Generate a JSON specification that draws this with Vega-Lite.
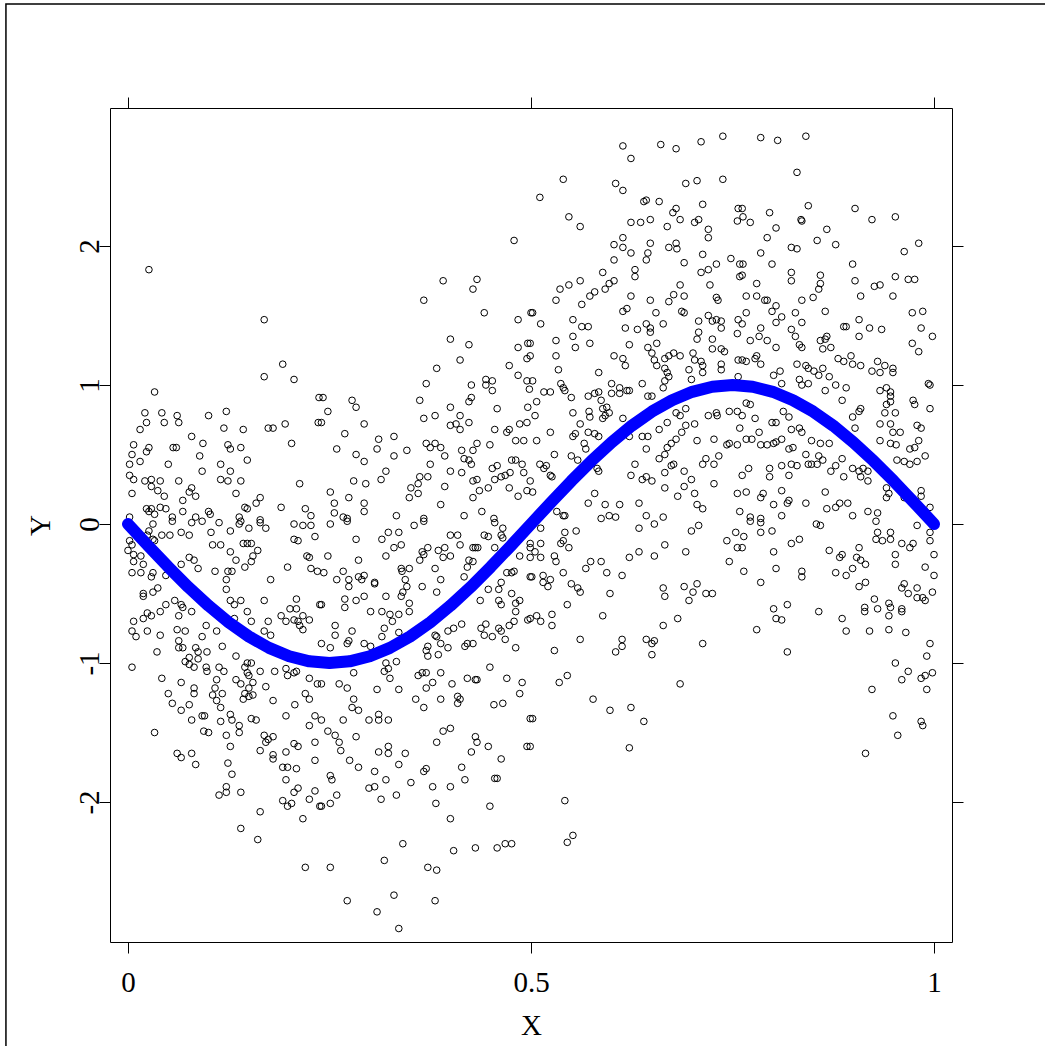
{
"$schema": "https://vega.github.io/schema/vega-lite/v6.json",
"autosize": "none",
"width": 842,
"height": 834,
"padding": {"left": 110, "top": 108, "right": 93, "bottom": 104},
"background": "white",
"config": {
"view": {"stroke": "black", "strokeWidth": 1},
"axis": {"domain": false, "grid": false, "tickColor": "black", "tickWidth": 1, "tickSize": 11, "labelFont": "Liberation Serif", "labelFontSize": 29, "labelColor": "black", "titleFont": "Liberation Serif", "titleFontSize": 29, "titleFontWeight": "normal", "titleColor": "black"}
},
"datasets": {
"pts": [
{"x":0.026,"y":1.83},{"x":0.169,"y":1.47},{"x":0.192,"y":1.15},{"x":0.169,"y":1.06},{"x":0.206,"y":1.04},{"x":0.033,"y":0.95},{"x":0.237,"y":0.91},{"x":0.021,"y":0.80},{"x":0.042,"y":0.80},{"x":0.061,"y":0.78},{"x":0.100,"y":0.78},{"x":0.122,"y":0.81},{"x":0.023,"y":0.73},{"x":0.045,"y":0.73},{"x":0.063,"y":0.73},{"x":0.236,"y":0.73},{"x":0.015,"y":0.68},{"x":0.119,"y":0.69},{"x":0.143,"y":0.68},{"x":0.174,"y":0.69},{"x":0.180,"y":0.69},{"x":0.195,"y":0.72},{"x":0.079,"y":0.63},{"x":0.093,"y":0.58},{"x":0.203,"y":0.58},{"x":0.007,"y":0.57},{"x":0.026,"y":0.55},{"x":0.056,"y":0.55},{"x":0.060,"y":0.55},{"x":0.124,"y":0.57},{"x":0.127,"y":0.54},{"x":0.140,"y":0.55},{"x":0.005,"y":0.50},{"x":0.023,"y":0.52},{"x":0.089,"y":0.49},{"x":0.002,"y":0.43},{"x":0.015,"y":0.45},{"x":0.050,"y":0.43},{"x":0.092,"y":0.38},{"x":0.115,"y":0.43},{"x":0.148,"y":0.46},{"x":0.127,"y":0.38},{"x":0.002,"y":0.35},{"x":0.007,"y":0.32},{"x":0.021,"y":0.31},{"x":0.029,"y":0.32},{"x":0.040,"y":0.31},{"x":0.063,"y":0.31},{"x":0.115,"y":0.32},{"x":0.124,"y":0.31},{"x":0.140,"y":0.31},{"x":0.213,"y":0.29},{"x":0.029,"y":0.27},{"x":0.037,"y":0.24},{"x":0.005,"y":0.22},{"x":0.045,"y":0.20},{"x":0.079,"y":0.26},{"x":0.076,"y":0.23},{"x":0.084,"y":0.20},{"x":0.068,"y":0.17},{"x":0.134,"y":0.22},{"x":0.159,"y":0.15},{"x":0.164,"y":0.19},{"x":0.148,"y":0.11},{"x":0.145,"y":0.12},{"x":0.023,"y":0.11},{"x":0.026,"y":0.09},{"x":0.029,"y":0.11},{"x":0.040,"y":0.12},{"x":0.047,"y":0.11},{"x":0.068,"y":0.09},{"x":0.100,"y":0.09},{"x":0.190,"y":0.12},{"x":0.220,"y":0.11},{"x":0.227,"y":0.06},{"x":0.002,"y":0.05},{"x":0.033,"y":0.07},{"x":0.055,"y":0.05},{"x":0.084,"y":0.05},{"x":0.102,"y":0.07},{"x":0.138,"y":0.05},{"x":0.164,"y":0.03},
{"x":0.031,"y":0.00},{"x":0.055,"y":0.02},{"x":0.079,"y":0.01},{"x":0.092,"y":0.02},{"x":0.113,"y":0.01},{"x":0.138,"y":0.00},{"x":0.140,"y":0.02},{"x":0.164,"y":0.01},{"x":0.171,"y":-0.03},{"x":0.206,"y":0.00},{"x":0.217,"y":-0.01},{"x":0.227,"y":-0.01},{"x":0.026,"y":-0.05},{"x":0.024,"y":-0.08},{"x":0.042,"y":-0.08},{"x":0.052,"y":-0.08},{"x":0.066,"y":-0.06},{"x":0.076,"y":-0.08},{"x":0.103,"y":-0.06},{"x":0.127,"y":-0.05},{"x":0.150,"y":-0.03},{"x":0.206,"y":-0.11},{"x":0.211,"y":-0.12},{"x":0.232,"y":-0.09},{"x":0.002,"y":-0.12},{"x":0.000,"y":-0.19},{"x":0.005,"y":-0.15},{"x":0.031,"y":-0.11},{"x":0.033,"y":-0.12},{"x":0.007,"y":-0.22},{"x":0.016,"y":-0.23},{"x":0.007,"y":-0.27},{"x":0.019,"y":-0.29},{"x":0.105,"y":-0.15},{"x":0.115,"y":-0.15},{"x":0.127,"y":-0.20},{"x":0.143,"y":-0.14},{"x":0.148,"y":-0.14},{"x":0.153,"y":-0.14},{"x":0.161,"y":-0.19},{"x":0.155,"y":-0.23},{"x":0.153,"y":-0.27},{"x":0.134,"y":-0.26},{"x":0.145,"y":-0.31},{"x":0.076,"y":-0.24},{"x":0.082,"y":-0.26},{"x":0.087,"y":-0.32},{"x":0.066,"y":-0.29},{"x":0.108,"y":-0.34},{"x":0.124,"y":-0.34},{"x":0.129,"y":-0.34},{"x":0.122,"y":-0.40},{"x":0.122,"y":-0.47},{"x":0.177,"y":-0.40},{"x":0.198,"y":-0.31},{"x":0.222,"y":-0.23},{"x":0.225,"y":-0.24},{"x":0.227,"y":-0.32},{"x":0.235,"y":-0.34},{"x":0.005,"y":-0.35},{"x":0.016,"y":-0.35},{"x":0.029,"y":-0.38},{"x":0.031,"y":-0.35},{"x":0.047,"y":-0.37},{"x":0.019,"y":-0.50},{"x":0.019,"y":-0.52},{"x":0.031,"y":-0.49},{"x":0.037,"y":-0.46},{"x":0.058,"y":-0.55},{"x":0.066,"y":-0.58},{"x":0.068,"y":-0.60},{"x":0.079,"y":-0.63},{"x":0.040,"y":-0.63},{"x":0.024,"y":-0.64},{"x":0.029,"y":-0.66},{"x":0.019,"y":-0.68},{"x":0.007,"y":-0.70},{"x":0.005,"y":-0.77},{"x":0.010,"y":-0.81},{"x":0.024,"y":-0.77},{"x":0.040,"y":-0.80},{"x":0.063,"y":-0.66},{"x":0.061,"y":-0.76},{"x":0.071,"y":-0.77},{"x":0.047,"y":-0.58},{"x":0.092,"y":-0.81},{"x":0.097,"y":-0.73},{"x":0.110,"y":-0.77},{"x":0.127,"y":-0.55},{"x":0.132,"y":-0.58},{"x":0.140,"y":-0.55},{"x":0.132,"y":-0.68},{"x":0.148,"y":-0.63},{"x":0.153,"y":-0.70},{"x":0.169,"y":-0.55},{"x":0.174,"y":-0.70},{"x":0.169,"y":-0.77},{"x":0.177,"y":-0.80},{"x":0.190,"y":-0.66},{"x":0.196,"y":-0.70},{"x":0.201,"y":-0.61},{"x":0.209,"y":-0.61},{"x":0.206,"y":-0.69},{"x":0.211,"y":-0.70},{"x":0.217,"y":-0.66},{"x":0.225,"y":-0.69},{"x":0.217,"y":-0.76},{"x":0.213,"y":-0.73},{"x":0.209,"y":-0.54},{"x":0.238,"y":-0.58},{"x":0.036,"y":-0.92},{"x":0.063,"y":-0.84},{"x":0.063,"y":-0.89},{"x":0.068,"y":-0.89},{"x":0.084,"y":-0.89},{"x":0.087,"y":-0.92},{"x":0.071,"y":-0.99},{"x":0.076,"y":-0.96},{"x":0.098,"y":-0.92},{"x":0.117,"y":-0.88},{"x":0.134,"y":-0.95},{"x":0.076,"y":-1.01},{"x":0.082,"y":-1.03},{"x":0.087,"y":-0.97},{"x":0.097,"y":-1.03},{"x":0.098,"y":-1.06},{"x":0.113,"y":-1.03},{"x":0.119,"y":-1.06},{"x":0.110,"y":-1.12},{"x":0.145,"y":-1.03},{"x":0.148,"y":-1.00},{"x":0.153,"y":-1.00},{"x":0.148,"y":-1.07},{"x":0.150,"y":-1.09},{"x":0.155,"y":-1.14},{"x":0.164,"y":-1.06},{"x":0.182,"y":-1.06},{"x":0.196,"y":-1.04},{"x":0.198,"y":-1.09},{"x":0.206,"y":-1.07},{"x":0.209,"y":-1.06},{"x":0.225,"y":-1.11},{"x":0.235,"y":-1.15},{"x":0.005,"y":-1.03},{"x":0.042,"y":-1.11},{"x":0.066,"y":-1.14},{"x":0.050,"y":-1.22},{"x":0.055,"y":-1.29},{"x":0.066,"y":-1.34},{"x":0.076,"y":-1.30},{"x":0.082,"y":-1.18},{"x":0.082,"y":-1.22},{"x":0.108,"y":-1.18},{"x":0.105,"y":-1.23},{"x":0.117,"y":-1.22},{"x":0.110,"y":-1.27},{"x":0.134,"y":-1.12},{"x":0.140,"y":-1.15},{"x":0.145,"y":-1.22},{"x":0.143,"y":-1.26},{"x":0.150,"y":-1.24},{"x":0.155,"y":-1.23},{"x":0.150,"y":-1.18},{"x":0.171,"y":-1.17},{"x":0.180,"y":-1.27},{"x":0.220,"y":-1.22},{"x":0.225,"y":-1.26},{"x":0.207,"y":-1.30},{"x":0.115,"y":-1.32},{"x":0.127,"y":-1.37},{"x":0.129,"y":-1.41},{"x":0.079,"y":-1.41},{"x":0.092,"y":-1.38},{"x":0.095,"y":-1.38},{"x":0.115,"y":-1.42},{"x":0.138,"y":-1.45},{"x":0.138,"y":-1.50},{"x":0.153,"y":-1.40},{"x":0.159,"y":-1.41},{"x":0.196,"y":-1.38},{"x":0.225,"y":-1.45},{"x":0.232,"y":-1.38},{"x":0.094,"y":-1.49},{"x":0.100,"y":-1.50},{"x":0.122,"y":-1.52},{"x":0.033,"y":-1.50},{"x":0.127,"y":-1.60},{"x":0.169,"y":-1.52},{"x":0.174,"y":-1.55},{"x":0.180,"y":-1.53},{"x":0.171,"y":-1.57},{"x":0.164,"y":-1.63},{"x":0.180,"y":-1.66},{"x":0.180,"y":-1.69},{"x":0.206,"y":-1.58},{"x":0.211,"y":-1.60},{"x":0.232,"y":-1.57},{"x":0.232,"y":-1.70},{"x":0.196,"y":-1.64},{"x":0.061,"y":-1.65},{"x":0.066,"y":-1.68},{"x":0.079,"y":-1.65},{"x":0.084,"y":-1.73},{"x":0.124,"y":-1.72},{"x":0.129,"y":-1.80},{"x":0.192,"y":-1.75},{"x":0.198,"y":-1.75},{"x":0.209,"y":-1.76},{"x":0.196,"y":-1.84},{"x":0.122,"y":-1.89},{"x":0.113,"y":-1.95},{"x":0.122,"y":-1.93},{"x":0.140,"y":-1.93},{"x":0.211,"y":-1.90},{"x":0.206,"y":-1.93},{"x":0.192,"y":-1.99},{"x":0.198,"y":-2.03},{"x":0.203,"y":-2.01},{"x":0.225,"y":-1.98},{"x":0.232,"y":-1.92},{"x":0.238,"y":-2.03},{"x":0.164,"y":-2.07},{"x":0.217,"y":-2.12},{"x":0.140,"y":-2.19},{"x":0.161,"y":-2.27},{"x":0.220,"y":-2.47},
{"x":0.479,"y":2.04},{"x":0.391,"y":1.75},{"x":0.433,"y":1.76},{"x":0.428,"y":1.69},{"x":0.367,"y":1.61},{"x":0.442,"y":1.52},{"x":0.484,"y":1.47},{"x":0.500,"y":1.52},{"x":0.400,"y":1.33},{"x":0.423,"y":1.29},{"x":0.484,"y":1.27},{"x":0.496,"y":1.30},{"x":0.495,"y":1.19},{"x":0.412,"y":1.18},{"x":0.383,"y":1.12},{"x":0.473,"y":1.14},{"x":0.484,"y":1.07},{"x":0.495,"y":1.03},{"x":0.370,"y":1.01},{"x":0.444,"y":1.04},{"x":0.452,"y":1.03},{"x":0.444,"y":1.00},{"x":0.452,"y":0.96},{"x":0.426,"y":1.00},{"x":0.498,"y":0.97},{"x":0.242,"y":0.91},{"x":0.248,"y":0.81},{"x":0.240,"y":0.73},{"x":0.278,"y":0.89},{"x":0.283,"y":0.84},{"x":0.362,"y":0.89},{"x":0.426,"y":0.91},{"x":0.423,"y":0.88},{"x":0.400,"y":0.84},{"x":0.458,"y":0.83},{"x":0.496,"y":0.84},{"x":0.293,"y":0.72},{"x":0.367,"y":0.76},{"x":0.381,"y":0.78},{"x":0.412,"y":0.78},{"x":0.407,"y":0.72},{"x":0.400,"y":0.71},{"x":0.412,"y":0.68},{"x":0.423,"y":0.73},{"x":0.455,"y":0.68},{"x":0.470,"y":0.66},{"x":0.473,"y":0.68},{"x":0.486,"y":0.72},{"x":0.495,"y":0.73},{"x":0.269,"y":0.65},{"x":0.259,"y":0.54},{"x":0.311,"y":0.61},{"x":0.309,"y":0.54},{"x":0.330,"y":0.63},{"x":0.330,"y":0.49},{"x":0.283,"y":0.50},{"x":0.293,"y":0.45},{"x":0.346,"y":0.53},{"x":0.370,"y":0.58},{"x":0.381,"y":0.58},{"x":0.375,"y":0.55},{"x":0.388,"y":0.55},{"x":0.393,"y":0.49},{"x":0.433,"y":0.58},{"x":0.449,"y":0.57},{"x":0.414,"y":0.53},{"x":0.428,"y":0.53},{"x":0.417,"y":0.47},{"x":0.423,"y":0.46},{"x":0.426,"y":0.43},{"x":0.481,"y":0.60},{"x":0.491,"y":0.60},{"x":0.375,"y":0.43},{"x":0.400,"y":0.38},{"x":0.414,"y":0.37},{"x":0.320,"y":0.38},{"x":0.314,"y":0.32},{"x":0.280,"y":0.31},{"x":0.295,"y":0.29},{"x":0.362,"y":0.34},{"x":0.372,"y":0.34},{"x":0.360,"y":0.29},{"x":0.351,"y":0.26},{"x":0.349,"y":0.19},{"x":0.360,"y":0.22},{"x":0.393,"y":0.27},{"x":0.428,"y":0.31},{"x":0.433,"y":0.32},{"x":0.452,"y":0.40},{"x":0.458,"y":0.42},{"x":0.455,"y":0.32},{"x":0.463,"y":0.34},{"x":0.468,"y":0.35},{"x":0.474,"y":0.37},{"x":0.476,"y":0.46},{"x":0.481,"y":0.46},{"x":0.489,"y":0.43},{"x":0.491,"y":0.37},{"x":0.447,"y":0.26},{"x":0.436,"y":0.24},{"x":0.473,"y":0.26},{"x":0.484,"y":0.20},{"x":0.495,"y":0.24},{"x":0.428,"y":0.19},{"x":0.251,"y":0.23},{"x":0.256,"y":0.15},{"x":0.274,"y":0.19},{"x":0.293,"y":0.15},{"x":0.293,"y":0.09},{"x":0.256,"y":0.08},{"x":0.267,"y":0.05},{"x":0.272,"y":0.04},{"x":0.333,"y":0.06},{"x":0.367,"y":0.04},{"x":0.388,"y":0.14},{"x":0.417,"y":0.06},{"x":0.439,"y":0.09},{"x":0.454,"y":0.04},
{"x":0.251,"y":0.00},{"x":0.272,"y":0.02},{"x":0.283,"y":-0.11},{"x":0.315,"y":-0.11},{"x":0.323,"y":-0.06},{"x":0.336,"y":-0.06},{"x":0.355,"y":-0.01},{"x":0.367,"y":0.02},{"x":0.400,"y":-0.08},{"x":0.409,"y":-0.08},{"x":0.455,"y":0.01},{"x":0.465,"y":-0.03},{"x":0.442,"y":-0.08},{"x":0.447,"y":-0.09},{"x":0.463,"y":-0.08},{"x":0.465,"y":-0.10},{"x":0.248,"y":-0.23},{"x":0.286,"y":-0.26},{"x":0.320,"y":-0.23},{"x":0.330,"y":-0.17},{"x":0.339,"y":-0.15},{"x":0.365,"y":-0.20},{"x":0.367,"y":-0.22},{"x":0.362,"y":-0.26},{"x":0.372,"y":-0.17},{"x":0.385,"y":-0.19},{"x":0.391,"y":-0.24},{"x":0.393,"y":-0.17},{"x":0.400,"y":-0.23},{"x":0.412,"y":-0.15},{"x":0.428,"y":-0.17},{"x":0.431,"y":-0.17},{"x":0.434,"y":-0.17},{"x":0.423,"y":-0.26},{"x":0.421,"y":-0.31},{"x":0.428,"y":-0.27},{"x":0.455,"y":-0.17},{"x":0.486,"y":-0.23},{"x":0.499,"y":-0.17},{"x":0.243,"y":-0.35},{"x":0.267,"y":-0.34},{"x":0.259,"y":-0.40},{"x":0.274,"y":-0.40},{"x":0.274,"y":-0.45},{"x":0.286,"y":-0.38},{"x":0.293,"y":-0.37},{"x":0.290,"y":-0.40},{"x":0.306,"y":-0.42},{"x":0.306,"y":-0.43},{"x":0.339,"y":-0.32},{"x":0.340,"y":-0.34},{"x":0.349,"y":-0.32},{"x":0.344,"y":-0.40},{"x":0.346,"y":-0.45},{"x":0.341,"y":-0.49},{"x":0.339,"y":-0.52},{"x":0.349,"y":-0.57},{"x":0.349,"y":-0.63},{"x":0.365,"y":-0.45},{"x":0.381,"y":-0.32},{"x":0.388,"y":-0.40},{"x":0.383,"y":-0.49},{"x":0.417,"y":-0.38},{"x":0.269,"y":-0.54},{"x":0.269,"y":-0.60},{"x":0.283,"y":-0.55},{"x":0.293,"y":-0.52},{"x":0.301,"y":-0.63},{"x":0.315,"y":-0.63},{"x":0.325,"y":-0.65},{"x":0.336,"y":-0.65},{"x":0.320,"y":-0.52},{"x":0.240,"y":-0.58},{"x":0.257,"y":-0.73},{"x":0.257,"y":-0.80},{"x":0.278,"y":-0.77},{"x":0.318,"y":-0.75},{"x":0.315,"y":-0.81},{"x":0.328,"y":-0.70},{"x":0.336,"y":-0.78},{"x":0.240,"y":-0.86},{"x":0.251,"y":-0.89},{"x":0.272,"y":-0.86},{"x":0.274,"y":-0.84},{"x":0.293,"y":-0.86},{"x":0.301,"y":-0.88},{"x":0.381,"y":-0.80},{"x":0.383,"y":-0.81},{"x":0.372,"y":-0.88},{"x":0.370,"y":-0.91},{"x":0.372,"y":-0.95},{"x":0.388,"y":-0.86},{"x":0.385,"y":-0.94},{"x":0.397,"y":-0.89},{"x":0.414,"y":-0.72},{"x":0.404,"y":-0.75},{"x":0.397,"y":-0.77},{"x":0.418,"y":-0.88},{"x":0.421,"y":-0.86},{"x":0.428,"y":-0.86},{"x":0.438,"y":-0.75},{"x":0.442,"y":-0.80},{"x":0.444,"y":-0.72},{"x":0.452,"y":-0.81},{"x":0.460,"y":-0.75},{"x":0.463,"y":-0.77},{"x":0.468,"y":-0.83},{"x":0.473,"y":-0.73},{"x":0.481,"y":-0.89},{"x":0.479,"y":-0.70},{"x":0.481,"y":-0.63},{"x":0.437,"y":-0.55},{"x":0.447,"y":-0.47},{"x":0.460,"y":-0.47},{"x":0.460,"y":-0.55},{"x":0.463,"y":-0.58},{"x":0.476,"y":-0.50},{"x":0.486,"y":-0.55},{"x":0.481,"y":-0.57},{"x":0.496,"y":-0.69},{"x":0.463,"y":-0.42},{"x":0.470,"y":-0.35},{"x":0.476,"y":-0.35},{"x":0.479,"y":-0.34},{"x":0.499,"y":-0.38},{"x":0.280,"y":-1.07},{"x":0.262,"y":-1.15},{"x":0.272,"y":-1.18},{"x":0.240,"y":-1.15},{"x":0.320,"y":-1.00},{"x":0.318,"y":-1.06},{"x":0.323,"y":-1.04},{"x":0.325,"y":-1.11},{"x":0.333,"y":-0.99},{"x":0.309,"y":-1.19},{"x":0.336,"y":-1.19},{"x":0.360,"y":-1.09},{"x":0.365,"y":-1.07},{"x":0.370,"y":-1.07},{"x":0.378,"y":-1.14},{"x":0.370,"y":-1.18},{"x":0.388,"y":-1.07},{"x":0.402,"y":-1.15},{"x":0.421,"y":-1.11},{"x":0.431,"y":-1.12},{"x":0.433,"y":-1.12},{"x":0.449,"y":-1.03},{"x":0.470,"y":-1.11},{"x":0.489,"y":-1.14},{"x":0.486,"y":-1.22},{"x":0.280,"y":-1.26},{"x":0.278,"y":-1.32},{"x":0.286,"y":-1.34},{"x":0.357,"y":-1.26},{"x":0.367,"y":-1.32},{"x":0.388,"y":-1.26},{"x":0.409,"y":-1.24},{"x":0.412,"y":-1.26},{"x":0.409,"y":-1.29},{"x":0.454,"y":-1.30},{"x":0.465,"y":-1.29},{"x":0.499,"y":-1.40},{"x":0.240,"y":-1.41},{"x":0.267,"y":-1.41},{"x":0.299,"y":-1.41},{"x":0.311,"y":-1.37},{"x":0.311,"y":-1.41},{"x":0.323,"y":-1.41},{"x":0.248,"y":-1.49},{"x":0.257,"y":-1.52},{"x":0.262,"y":-1.57},{"x":0.264,"y":-1.63},{"x":0.283,"y":-1.53},{"x":0.275,"y":-1.70},{"x":0.286,"y":-1.75},{"x":0.311,"y":-1.64},{"x":0.323,"y":-1.60},{"x":0.323,"y":-1.65},{"x":0.344,"y":-1.65},{"x":0.336,"y":-1.73},{"x":0.383,"y":-1.57},{"x":0.391,"y":-1.49},{"x":0.400,"y":-1.47},{"x":0.431,"y":-1.53},{"x":0.433,"y":-1.57},{"x":0.426,"y":-1.64},{"x":0.447,"y":-1.60},{"x":0.463,"y":-1.69},{"x":0.495,"y":-1.60},{"x":0.414,"y":-1.75},{"x":0.418,"y":-1.84},{"x":0.400,"y":-1.89},{"x":0.378,"y":-1.89},{"x":0.351,"y":-1.86},{"x":0.333,"y":-1.95},{"x":0.314,"y":-1.98},{"x":0.306,"y":-1.78},{"x":0.320,"y":-1.84},{"x":0.299,"y":-1.90},{"x":0.306,"y":-1.89},{"x":0.367,"y":-1.78},{"x":0.370,"y":-1.76},{"x":0.382,"y":-2.01},{"x":0.449,"y":-2.03},{"x":0.455,"y":-1.83},{"x":0.458,"y":-1.83},{"x":0.251,"y":-1.81},{"x":0.253,"y":-1.84},{"x":0.259,"y":-1.95},{"x":0.251,"y":-2.01},{"x":0.240,"y":-2.03},{"x":0.400,"y":-2.12},{"x":0.341,"y":-2.30},{"x":0.318,"y":-2.42},{"x":0.251,"y":-2.47},{"x":0.372,"y":-2.47},{"x":0.383,"y":-2.49},{"x":0.404,"y":-2.35},{"x":0.431,"y":-2.33},{"x":0.458,"y":-2.33},{"x":0.468,"y":-2.30},{"x":0.476,"y":-2.30},{"x":0.272,"y":-2.71},{"x":0.309,"y":-2.79},{"x":0.330,"y":-2.67},{"x":0.381,"y":-2.71},{"x":0.336,"y":-2.91},
{"x":0.614,"y":2.72},{"x":0.624,"y":2.63},{"x":0.661,"y":2.73},{"x":0.680,"y":2.70},{"x":0.711,"y":2.75},{"x":0.738,"y":2.79},{"x":0.540,"y":2.48},{"x":0.511,"y":2.35},{"x":0.605,"y":2.45},{"x":0.614,"y":2.40},{"x":0.692,"y":2.45},{"x":0.706,"y":2.47},{"x":0.738,"y":2.48},{"x":0.640,"y":2.32},{"x":0.643,"y":2.33},{"x":0.659,"y":2.32},{"x":0.680,"y":2.27},{"x":0.676,"y":2.24},{"x":0.685,"y":2.19},{"x":0.713,"y":2.30},{"x":0.757,"y":2.27},{"x":0.756,"y":2.18},{"x":0.547,"y":2.21},{"x":0.561,"y":2.14},{"x":0.624,"y":2.17},{"x":0.636,"y":2.17},{"x":0.648,"y":2.19},{"x":0.669,"y":2.14},{"x":0.703,"y":2.17},{"x":0.708,"y":2.19},{"x":0.720,"y":2.12},{"x":0.720,"y":2.06},{"x":0.614,"y":2.06},{"x":0.603,"y":2.01},{"x":0.614,"y":1.99},{"x":0.624,"y":1.95},{"x":0.648,"y":2.02},{"x":0.645,"y":1.95},{"x":0.643,"y":1.90},{"x":0.671,"y":1.99},{"x":0.680,"y":2.02},{"x":0.681,"y":1.98},{"x":0.690,"y":1.88},{"x":0.713,"y":1.94},{"x":0.730,"y":1.87},{"x":0.720,"y":1.83},{"x":0.711,"y":1.81},{"x":0.748,"y":1.91},{"x":0.759,"y":1.87},{"x":0.759,"y":1.78},{"x":0.603,"y":1.90},{"x":0.589,"y":1.81},{"x":0.603,"y":1.75},{"x":0.597,"y":1.73},{"x":0.592,"y":1.69},{"x":0.629,"y":1.83},{"x":0.629,"y":1.78},{"x":0.561,"y":1.75},{"x":0.547,"y":1.72},{"x":0.536,"y":1.69},{"x":0.531,"y":1.61},{"x":0.579,"y":1.67},{"x":0.573,"y":1.64},{"x":0.563,"y":1.58},{"x":0.624,"y":1.64},{"x":0.648,"y":1.61},{"x":0.671,"y":1.60},{"x":0.677,"y":1.65},{"x":0.685,"y":1.72},{"x":0.690,"y":1.64},{"x":0.722,"y":1.72},{"x":0.730,"y":1.63},{"x":0.732,"y":1.61},{"x":0.614,"y":1.53},{"x":0.619,"y":1.55},{"x":0.655,"y":1.52},{"x":0.664,"y":1.44},{"x":0.687,"y":1.53},{"x":0.690,"y":1.52},{"x":0.502,"y":1.52},{"x":0.512,"y":1.44},{"x":0.552,"y":1.47},{"x":0.563,"y":1.42},{"x":0.571,"y":1.42},{"x":0.552,"y":1.35},{"x":0.555,"y":1.27},{"x":0.573,"y":1.30},{"x":0.617,"y":1.41},{"x":0.632,"y":1.40},{"x":0.643,"y":1.44},{"x":0.648,"y":1.41},{"x":0.648,"y":1.38},{"x":0.645,"y":1.27},{"x":0.656,"y":1.30},{"x":0.708,"y":1.46},{"x":0.720,"y":1.50},{"x":0.725,"y":1.46},{"x":0.730,"y":1.47},{"x":0.736,"y":1.46},{"x":0.736,"y":1.41},{"x":0.708,"y":1.38},{"x":0.706,"y":1.33},{"x":0.725,"y":1.33},{"x":0.725,"y":1.26},{"x":0.736,"y":1.26},{"x":0.740,"y":1.24},{"x":0.757,"y":1.47},{"x":0.756,"y":1.37},{"x":0.531,"y":1.32},{"x":0.531,"y":1.21},{"x":0.534,"y":1.11},{"x":0.537,"y":1.01},{"x":0.542,"y":0.96},{"x":0.550,"y":0.91},{"x":0.499,"y":1.30},{"x":0.499,"y":1.21},{"x":0.502,"y":1.03},{"x":0.603,"y":1.21},{"x":0.614,"y":1.19},{"x":0.617,"y":1.14},{"x":0.622,"y":1.29},{"x":0.584,"y":1.09},{"x":0.650,"y":1.23},{"x":0.653,"y":1.18},{"x":0.656,"y":1.14},{"x":0.666,"y":1.19},{"x":0.671,"y":1.21},{"x":0.677,"y":1.23},{"x":0.685,"y":1.21},{"x":0.666,"y":1.12},{"x":0.669,"y":1.09},{"x":0.666,"y":1.03},{"x":0.671,"y":1.06},{"x":0.664,"y":0.98},{"x":0.701,"y":1.23},{"x":0.703,"y":1.18},{"x":0.711,"y":1.17},{"x":0.713,"y":1.14},{"x":0.713,"y":1.09},{"x":0.696,"y":1.11},{"x":0.699,"y":1.04},{"x":0.736,"y":1.15},{"x":0.736,"y":1.11},{"x":0.757,"y":1.18},{"x":0.757,"y":1.06},{"x":0.600,"y":1.01},{"x":0.610,"y":0.98},{"x":0.619,"y":0.96},{"x":0.622,"y":0.96},{"x":0.610,"y":0.94},{"x":0.600,"y":0.94},{"x":0.638,"y":1.01},{"x":0.645,"y":0.92},{"x":0.650,"y":0.92},{"x":0.516,"y":0.95},{"x":0.524,"y":0.95},{"x":0.540,"y":0.98},{"x":0.571,"y":0.92},{"x":0.579,"y":0.94},{"x":0.584,"y":0.95},{"x":0.587,"y":0.89},{"x":0.589,"y":0.83},{"x":0.592,"y":0.78},{"x":0.589,"y":0.76},{"x":0.597,"y":0.80},{"x":0.594,"y":0.84},{"x":0.572,"y":0.81},{"x":0.573,"y":0.77},{"x":0.552,"y":0.80},{"x":0.561,"y":0.72},{"x":0.552,"y":0.63},{"x":0.555,"y":0.65},{"x":0.507,"y":0.88},{"x":0.505,"y":0.78},{"x":0.507,"y":0.60},{"x":0.524,"y":0.66},{"x":0.529,"y":0.50},{"x":0.571,"y":0.66},{"x":0.579,"y":0.65},{"x":0.584,"y":0.63},{"x":0.566,"y":0.58},{"x":0.568,"y":0.54},{"x":0.550,"y":0.49},{"x":0.558,"y":0.46},{"x":0.614,"y":0.76},{"x":0.622,"y":0.63},{"x":0.638,"y":0.63},{"x":0.645,"y":0.63},{"x":0.643,"y":0.54},{"x":0.659,"y":0.68},{"x":0.669,"y":0.73},{"x":0.680,"y":0.80},{"x":0.685,"y":0.78},{"x":0.692,"y":0.83},{"x":0.703,"y":0.72},{"x":0.692,"y":0.71},{"x":0.687,"y":0.66},{"x":0.720,"y":0.78},{"x":0.730,"y":0.80},{"x":0.731,"y":0.78},{"x":0.746,"y":0.81},{"x":0.756,"y":0.81},{"x":0.759,"y":0.69},{"x":0.706,"y":0.60},{"x":0.727,"y":0.61},{"x":0.680,"y":0.61},{"x":0.674,"y":0.58},{"x":0.669,"y":0.55},{"x":0.666,"y":0.50},{"x":0.659,"y":0.47},{"x":0.743,"y":0.57},{"x":0.746,"y":0.58},{"x":0.756,"y":0.57},{"x":0.717,"y":0.47},{"x":0.713,"y":0.43},{"x":0.727,"y":0.43},{"x":0.733,"y":0.49},{"x":0.677,"y":0.43},{"x":0.674,"y":0.42},{"x":0.666,"y":0.37},{"x":0.690,"y":0.38},{"x":0.699,"y":0.32},{"x":0.690,"y":0.27},{"x":0.666,"y":0.26},{"x":0.682,"y":0.20},{"x":0.629,"y":0.43},{"x":0.624,"y":0.35},{"x":0.638,"y":0.32},{"x":0.643,"y":0.34},{"x":0.650,"y":0.31},{"x":0.584,"y":0.38},{"x":0.582,"y":0.40},{"x":0.579,"y":0.22},{"x":0.571,"y":0.15},{"x":0.592,"y":0.14},{"x":0.597,"y":0.06},{"x":0.610,"y":0.14},{"x":0.634,"y":0.15},{"x":0.643,"y":0.06},{"x":0.664,"y":0.05},{"x":0.703,"y":0.22},{"x":0.706,"y":0.14},{"x":0.713,"y":0.11},{"x":0.727,"y":0.29},{"x":0.756,"y":0.22},{"x":0.759,"y":0.09},{"x":0.499,"y":0.31},{"x":0.502,"y":0.23},{"x":0.516,"y":0.40},{"x":0.519,"y":0.42},{"x":0.524,"y":0.35},{"x":0.526,"y":0.34},{"x":0.511,"y":0.43},{"x":0.532,"y":0.09},{"x":0.540,"y":0.06},{"x":0.542,"y":0.06},{"x":0.587,"y":0.04},{"x":0.605,"y":0.05},
{"x":0.512,"y":-0.03},{"x":0.542,"y":-0.06},{"x":0.556,"y":-0.05},{"x":0.499,"y":-0.14},{"x":0.512,"y":-0.14},{"x":0.505,"y":-0.20},{"x":0.537,"y":-0.14},{"x":0.540,"y":-0.12},{"x":0.547,"y":-0.17},{"x":0.499,"y":-0.24},{"x":0.512,"y":-0.24},{"x":0.529,"y":-0.23},{"x":0.531,"y":-0.27},{"x":0.568,"y":-0.32},{"x":0.574,"y":-0.27},{"x":0.587,"y":-0.27},{"x":0.594,"y":-0.35},{"x":0.613,"y":-0.37},{"x":0.622,"y":-0.24},{"x":0.634,"y":-0.20},{"x":0.653,"y":-0.23},{"x":0.666,"y":-0.15},{"x":0.692,"y":-0.20},{"x":0.699,"y":-0.05},{"x":0.708,"y":-0.01},{"x":0.634,"y":-0.03},{"x":0.653,"y":0.00},{"x":0.743,"y":-0.12},{"x":0.754,"y":-0.06},{"x":0.746,"y":-0.27},{"x":0.756,"y":-0.17},{"x":0.501,"y":-0.38},{"x":0.515,"y":-0.37},{"x":0.515,"y":-0.42},{"x":0.524,"y":-0.40},{"x":0.521,"y":-0.45},{"x":0.540,"y":-0.35},{"x":0.550,"y":-0.43},{"x":0.558,"y":-0.46},{"x":0.561,"y":-0.49},{"x":0.598,"y":-0.50},{"x":0.545,"y":-0.58},{"x":0.499,"y":-0.68},{"x":0.507,"y":-0.66},{"x":0.512,"y":-0.70},{"x":0.526,"y":-0.65},{"x":0.526,"y":-0.73},{"x":0.589,"y":-0.66},{"x":0.561,"y":-0.83},{"x":0.529,"y":-0.91},{"x":0.664,"y":-0.46},{"x":0.666,"y":-0.52},{"x":0.690,"y":-0.45},{"x":0.706,"y":-0.43},{"x":0.701,"y":-0.49},{"x":0.696,"y":-0.55},{"x":0.717,"y":-0.50},{"x":0.725,"y":-0.50},{"x":0.682,"y":-0.68},{"x":0.664,"y":-0.73},{"x":0.613,"y":-0.83},{"x":0.613,"y":-0.88},{"x":0.605,"y":-0.92},{"x":0.643,"y":-0.83},{"x":0.653,"y":-0.84},{"x":0.650,"y":-0.86},{"x":0.650,"y":-0.94},{"x":0.713,"y":-0.86},{"x":0.535,"y":-1.14},{"x":0.545,"y":-1.09},{"x":0.685,"y":-1.15},{"x":0.577,"y":-1.26},{"x":0.598,"y":-1.34},{"x":0.624,"y":-1.32},{"x":0.640,"y":-1.42},{"x":0.502,"y":-1.40},{"x":0.622,"y":-1.61},{"x":0.542,"y":-1.99},{"x":0.545,"y":-2.29},{"x":0.552,"y":-2.24},{"x":0.499,"y":-1.60},
{"x":0.785,"y":2.78},{"x":0.806,"y":2.76},{"x":0.841,"y":2.79},{"x":0.830,"y":2.53},{"x":0.844,"y":2.29},{"x":0.835,"y":2.19},{"x":0.836,"y":2.18},{"x":0.902,"y":2.27},{"x":0.923,"y":2.19},{"x":0.952,"y":2.21},{"x":0.762,"y":2.27},{"x":0.763,"y":2.21},{"x":0.772,"y":2.17},{"x":0.796,"y":2.24},{"x":0.804,"y":2.13},{"x":0.793,"y":2.06},{"x":0.823,"y":1.99},{"x":0.830,"y":1.98},{"x":0.855,"y":2.04},{"x":0.867,"y":2.12},{"x":0.878,"y":2.01},{"x":0.981,"y":2.02},{"x":0.963,"y":1.96},{"x":0.785,"y":1.95},{"x":0.799,"y":1.87},{"x":0.763,"y":1.87},{"x":0.762,"y":1.79},{"x":0.823,"y":1.81},{"x":0.823,"y":1.75},{"x":0.859,"y":1.79},{"x":0.859,"y":1.73},{"x":0.857,"y":1.69},{"x":0.850,"y":1.63},{"x":0.836,"y":1.61},{"x":0.899,"y":1.87},{"x":0.902,"y":1.75},{"x":0.909,"y":1.64},{"x":0.926,"y":1.71},{"x":0.933,"y":1.72},{"x":0.949,"y":1.64},{"x":0.952,"y":1.78},{"x":0.968,"y":1.76},{"x":0.976,"y":1.76},{"x":0.780,"y":1.73},{"x":0.767,"y":1.64},{"x":0.780,"y":1.64},{"x":0.790,"y":1.61},{"x":0.793,"y":1.61},{"x":0.799,"y":1.53},{"x":0.804,"y":1.57},{"x":0.811,"y":1.49},{"x":0.804,"y":1.45},{"x":0.767,"y":1.52},{"x":0.762,"y":1.44},{"x":0.828,"y":1.52},{"x":0.836,"y":1.45},{"x":0.823,"y":1.40},{"x":0.828,"y":1.35},{"x":0.833,"y":1.29},{"x":0.836,"y":1.27},{"x":0.865,"y":1.53},{"x":0.888,"y":1.42},{"x":0.891,"y":1.42},{"x":0.907,"y":1.47},{"x":0.920,"y":1.41},{"x":0.935,"y":1.40},{"x":0.907,"y":1.35},{"x":0.973,"y":1.52},{"x":0.986,"y":1.53},{"x":0.984,"y":1.41},{"x":0.998,"y":1.35},{"x":0.973,"y":1.30},{"x":0.981,"y":1.24},{"x":0.785,"y":1.41},{"x":0.783,"y":1.35},{"x":0.772,"y":1.32},{"x":0.793,"y":1.32},{"x":0.804,"y":1.27},{"x":0.859,"y":1.32},{"x":0.865,"y":1.33},{"x":0.867,"y":1.35},{"x":0.862,"y":1.26},{"x":0.872,"y":1.27},{"x":0.778,"y":1.19},{"x":0.780,"y":1.21},{"x":0.767,"y":1.17},{"x":0.762,"y":1.18},{"x":0.785,"y":1.15},{"x":0.830,"y":1.15},{"x":0.841,"y":1.14},{"x":0.844,"y":1.12},{"x":0.851,"y":1.10},{"x":0.857,"y":1.07},{"x":0.862,"y":1.12},{"x":0.870,"y":1.06},{"x":0.881,"y":1.19},{"x":0.888,"y":1.17},{"x":0.897,"y":1.21},{"x":0.899,"y":1.15},{"x":0.909,"y":1.14},{"x":0.923,"y":1.10},{"x":0.930,"y":1.17},{"x":0.939,"y":1.14},{"x":0.949,"y":1.12},{"x":0.949,"y":1.09},{"x":0.933,"y":1.09},{"x":0.801,"y":1.07},{"x":0.809,"y":1.10},{"x":0.811,"y":1.01},{"x":0.833,"y":1.04},{"x":0.836,"y":1.00},{"x":0.844,"y":1.01},{"x":0.865,"y":0.96},{"x":0.878,"y":1.00},{"x":0.891,"y":0.98},{"x":0.933,"y":0.96},{"x":0.941,"y":0.98},{"x":0.946,"y":0.95},{"x":0.946,"y":0.92},{"x":0.941,"y":0.86},{"x":0.946,"y":0.88},{"x":0.939,"y":0.80},{"x":0.952,"y":0.80},{"x":0.974,"y":0.89},{"x":0.976,"y":0.86},{"x":0.993,"y":1.01},{"x":0.995,"y":1.00},{"x":0.995,"y":0.83},{"x":0.886,"y":0.89},{"x":0.907,"y":0.81},{"x":0.899,"y":0.77},{"x":0.902,"y":0.69},{"x":0.909,"y":0.83},{"x":0.933,"y":0.72},{"x":0.946,"y":0.72},{"x":0.958,"y":0.66},{"x":0.949,"y":0.66},{"x":0.933,"y":0.60},{"x":0.946,"y":0.58},{"x":0.953,"y":0.57},{"x":0.979,"y":0.71},{"x":0.984,"y":0.69},{"x":0.981,"y":0.60},{"x":0.976,"y":0.55},{"x":0.970,"y":0.54},{"x":0.989,"y":0.49},{"x":0.954,"y":0.46},{"x":0.963,"y":0.45},{"x":0.970,"y":0.43},{"x":0.979,"y":0.45},{"x":0.767,"y":0.87},{"x":0.772,"y":0.86},{"x":0.762,"y":0.78},{"x":0.778,"y":0.76},{"x":0.799,"y":0.73},{"x":0.804,"y":0.73},{"x":0.783,"y":0.66},{"x":0.813,"y":0.81},{"x":0.820,"y":0.77},{"x":0.823,"y":0.68},{"x":0.833,"y":0.69},{"x":0.836,"y":0.66},{"x":0.767,"y":0.61},{"x":0.774,"y":0.61},{"x":0.785,"y":0.57},{"x":0.793,"y":0.57},{"x":0.801,"y":0.58},{"x":0.804,"y":0.59},{"x":0.811,"y":0.61},{"x":0.820,"y":0.54},{"x":0.825,"y":0.55},{"x":0.841,"y":0.50},{"x":0.848,"y":0.60},{"x":0.859,"y":0.58},{"x":0.870,"y":0.58},{"x":0.857,"y":0.49},{"x":0.855,"y":0.43},{"x":0.862,"y":0.46},{"x":0.848,"y":0.43},{"x":0.844,"y":0.43},{"x":0.886,"y":0.47},{"x":0.878,"y":0.42},{"x":0.872,"y":0.38},{"x":0.888,"y":0.34},{"x":0.899,"y":0.40},{"x":0.907,"y":0.38},{"x":0.912,"y":0.40},{"x":0.918,"y":0.38},{"x":0.918,"y":0.31},{"x":0.909,"y":0.34},{"x":0.811,"y":0.42},{"x":0.823,"y":0.43},{"x":0.830,"y":0.42},{"x":0.820,"y":0.35},{"x":0.796,"y":0.34},{"x":0.796,"y":0.40},{"x":0.770,"y":0.40},{"x":0.762,"y":0.35},{"x":0.767,"y":0.23},{"x":0.785,"y":0.19},{"x":0.788,"y":0.22},{"x":0.801,"y":0.14},{"x":0.811,"y":0.24},{"x":0.820,"y":0.17},{"x":0.818,"y":0.15},{"x":0.841,"y":0.15},{"x":0.865,"y":0.23},{"x":0.867,"y":0.11},{"x":0.878,"y":0.12},{"x":0.883,"y":0.15},{"x":0.893,"y":0.15},{"x":0.941,"y":0.26},{"x":0.941,"y":0.19},{"x":0.944,"y":0.22},{"x":0.963,"y":0.19},{"x":0.984,"y":0.24},{"x":0.984,"y":0.20},{"x":0.995,"y":0.12},{"x":0.772,"y":0.05},{"x":0.785,"y":0.04},{"x":0.811,"y":0.06},{"x":0.899,"y":0.06},{"x":0.918,"y":0.09},{"x":0.930,"y":0.08},
{"x":0.772,"y":0.02},{"x":0.785,"y":0.01},{"x":0.785,"y":-0.06},{"x":0.799,"y":-0.05},{"x":0.764,"y":-0.09},{"x":0.762,"y":-0.17},{"x":0.801,"y":-0.20},{"x":0.764,"y":-0.34},{"x":0.785,"y":-0.42},{"x":0.804,"y":-0.32},{"x":0.823,"y":-0.14},{"x":0.833,"y":-0.11},{"x":0.836,"y":-0.34},{"x":0.836,"y":-0.38},{"x":0.854,"y":0.00},{"x":0.859,"y":-0.01},{"x":0.870,"y":-0.19},{"x":0.883,"y":-0.24},{"x":0.886,"y":-0.22},{"x":0.878,"y":-0.35},{"x":0.891,"y":-0.37},{"x":0.899,"y":-0.32},{"x":0.904,"y":-0.24},{"x":0.909,"y":-0.26},{"x":0.915,"y":-0.29},{"x":0.907,"y":-0.17},{"x":0.907,"y":-0.45},{"x":0.915,"y":-0.42},{"x":0.928,"y":0.02},{"x":0.930,"y":-0.06},{"x":0.928,"y":-0.11},{"x":0.936,"y":-0.12},{"x":0.946,"y":-0.06},{"x":0.946,"y":-0.11},{"x":0.952,"y":-0.22},{"x":0.952,"y":-0.29},{"x":0.960,"y":-0.14},{"x":0.970,"y":-0.17},{"x":0.974,"y":-0.14},{"x":0.979,"y":-0.01},{"x":0.995,"y":-0.06},{"x":0.995,"y":-0.12},{"x":1.000,"y":-0.22},{"x":0.989,"y":-0.31},{"x":1.000,"y":-0.37},{"x":0.963,"y":-0.43},{"x":0.960,"y":-0.46},{"x":0.968,"y":-0.50},{"x":0.979,"y":-0.46},{"x":0.979,"y":-0.53},{"x":0.986,"y":-0.53},{"x":0.989,"y":-0.55},{"x":0.998,"y":-0.49},{"x":0.926,"y":-0.54},{"x":0.930,"y":-0.61},{"x":0.944,"y":-0.57},{"x":0.946,"y":-0.60},{"x":0.944,"y":-0.66},{"x":0.960,"y":-0.61},{"x":0.960,"y":-0.63},{"x":0.914,"y":-0.60},{"x":0.914,"y":-0.63},{"x":0.801,"y":-0.61},{"x":0.818,"y":-0.58},{"x":0.804,"y":-0.68},{"x":0.811,"y":-0.69},{"x":0.780,"y":-0.76},{"x":0.857,"y":-0.63},{"x":0.886,"y":-0.68},{"x":0.891,"y":-0.77},{"x":0.920,"y":-0.77},{"x":0.944,"y":-0.76},{"x":0.965,"y":-0.78},{"x":0.818,"y":-0.92},{"x":0.995,"y":-0.86},{"x":0.991,"y":-0.95},{"x":0.952,"y":-1.00},{"x":0.968,"y":-1.06},{"x":0.960,"y":-1.12},{"x":0.984,"y":-1.11},{"x":0.989,"y":-1.09},{"x":0.998,"y":-1.07},{"x":0.923,"y":-1.19},{"x":0.991,"y":-1.19},{"x":0.949,"y":-1.38},{"x":0.984,"y":-1.42},{"x":0.986,"y":-1.45},{"x":0.955,"y":-1.52},{"x":0.915,"y":-1.65}
],
"curve": [
{"x":0,"y":0},{"x":0.025,"y":-0.1564},{"x":0.05,"y":-0.309},{"x":0.075,"y":-0.454},{"x":0.1,"y":-0.5878},{"x":0.125,"y":-0.7071},{"x":0.15,"y":-0.809},{"x":0.175,"y":-0.891},{"x":0.2,"y":-0.9511},{"x":0.225,"y":-0.9877},{"x":0.25,"y":-1},{"x":0.275,"y":-0.9877},{"x":0.3,"y":-0.9511},{"x":0.325,"y":-0.891},{"x":0.35,"y":-0.809},{"x":0.375,"y":-0.7071},{"x":0.4,"y":-0.5878},{"x":0.425,"y":-0.454},{"x":0.45,"y":-0.309},{"x":0.475,"y":-0.1564},{"x":0.5,"y":0},{"x":0.525,"y":0.1564},{"x":0.55,"y":0.309},{"x":0.575,"y":0.454},{"x":0.6,"y":0.5878},{"x":0.625,"y":0.7071},{"x":0.65,"y":0.809},{"x":0.675,"y":0.891},{"x":0.7,"y":0.9511},{"x":0.725,"y":0.9877},{"x":0.75,"y":1},{"x":0.775,"y":0.9877},{"x":0.8,"y":0.9511},{"x":0.825,"y":0.891},{"x":0.85,"y":0.809},{"x":0.875,"y":0.7071},{"x":0.9,"y":0.5878},{"x":0.925,"y":0.454},{"x":0.95,"y":0.309},{"x":0.975,"y":0.1564},{"x":1,"y":0}
]
},
"layer": [
{
"data": {"name": "pts"},
"mark": {"type": "point", "shape": "circle", "filled": false, "stroke": "black", "strokeWidth": 1, "size": 44, "opacity": 1},
"encoding": {
"x": {"field": "x", "type": "quantitative", "scale": {"domain": [-0.0223, 1.0223], "nice": false, "zero": false}, "axis": {"orient": "bottom", "values": [0, 0.5, 1], "labelExpr": "'' + datum.value", "labelPadding": 15, "labelBaseline": "top", "title": "X", "titlePadding": 14}},
"y": {"field": "y", "type": "quantitative", "scale": {"domain": [-3.007, 2.993], "nice": false, "zero": false}, "axis": {"orient": "left", "values": [-2, -1, 0, 1, 2, 3], "labelExpr": "'' + datum.value", "labelAngle": -90, "labelAlign": "center", "labelBaseline": "alphabetic", "labelPadding": 1, "title": "Y", "titlePadding": 20}}
}
},
{
"data": {"name": "curve"},
"mark": {"type": "line", "color": "#0000FF", "strokeWidth": 12, "strokeCap": "round", "strokeJoin": "round"},
"encoding": {
"x": {"field": "x", "type": "quantitative", "axis": {"orient": "top", "values": [0, 0.5, 1], "labels": false, "title": null}},
"y": {"field": "y", "type": "quantitative", "axis": {"orient": "right", "values": [-2, -1, 0, 1, 2, 3], "labels": false, "title": null}}
}
},
{
"data": {"values": [{"k": 1}]},
"mark": {"type": "rect", "fill": null, "fillOpacity": 0, "stroke": "black", "strokeWidth": 1.5, "clip": false},
"encoding": {
"x": {"datum": -0.1514, "type": "quantitative", "axis": null},
"x2": {"datum": 1.4},
"y": {"datum": 3.741, "type": "quantitative", "axis": null},
"y2": {"datum": -4.5}
}
}
],
"resolve": {"axis": {"x": "independent", "y": "independent"}}
}
